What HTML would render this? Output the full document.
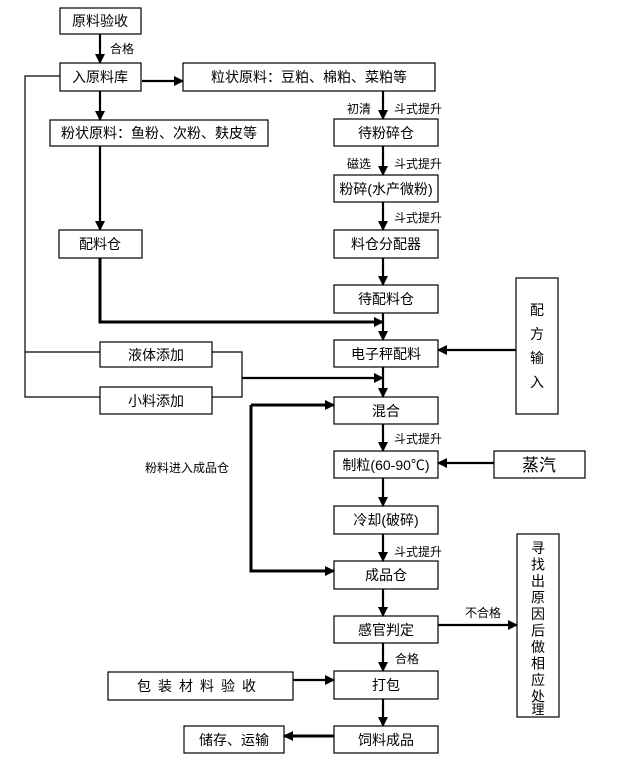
<!DOCTYPE html>
<html><head><meta charset="utf-8"><style>
html,body{margin:0;padding:0;background:#fff;}
svg{display:block;}
text{font-family:"Liberation Sans","Noto Sans CJK SC",sans-serif;font-size:14px;fill:#000;}
.s{font-size:12px;}
</style></head><body>
<svg width="618" height="761" viewBox="0 0 618 761" xmlns="http://www.w3.org/2000/svg">
<defs>
<marker id="a" markerWidth="10" markerHeight="10" refX="9" refY="5" orient="auto" markerUnits="userSpaceOnUse">
<path d="M0,0 L10,5 L0,10 z" fill="#000"/></marker>
</defs>
<g fill="#fff" stroke="#000" stroke-width="1.2">
<rect x="60" y="8" width="81" height="26"/>
<rect x="60" y="63" width="81" height="28"/>
<rect x="183" y="63" width="252" height="28"/>
<rect x="50" y="120" width="218" height="26"/>
<rect x="59" y="230" width="83" height="28"/>
<rect x="334" y="119" width="104" height="27"/>
<rect x="334" y="175" width="104" height="27"/>
<rect x="334" y="230" width="104" height="28"/>
<rect x="334" y="285" width="104" height="28"/>
<rect x="334" y="340" width="104" height="27"/>
<rect x="516" y="278" width="42" height="136"/>
<rect x="100" y="342" width="112" height="25"/>
<rect x="100" y="387" width="112" height="27"/>
<rect x="334" y="397" width="104" height="27"/>
<rect x="334" y="451" width="104" height="27"/>
<rect x="494" y="451" width="91" height="27"/>
<rect x="334" y="506" width="104" height="28"/>
<rect x="334" y="561" width="104" height="28"/>
<rect x="334" y="616" width="104" height="27"/>
<rect x="517" y="534" width="42" height="183"/>
<rect x="108" y="672" width="185" height="28"/>
<rect x="334" y="671" width="104" height="28"/>
<rect x="334" y="726" width="104" height="27"/>
<rect x="184" y="726" width="100" height="27"/>
</g>
<g stroke="#000" stroke-width="2.2" fill="none">
<line x1="100" y1="34" x2="100" y2="63" marker-end="url(#a)"/>
<line x1="142" y1="81" x2="183" y2="81" marker-end="url(#a)"/>
<line x1="100" y1="91" x2="100" y2="120" marker-end="url(#a)"/>
<line x1="100" y1="146" x2="100" y2="230" marker-end="url(#a)"/>
<line x1="383" y1="91" x2="383" y2="119" marker-end="url(#a)"/>
<line x1="383" y1="146" x2="383" y2="175" marker-end="url(#a)"/>
<line x1="383" y1="202" x2="383" y2="230" marker-end="url(#a)"/>
<line x1="383" y1="258" x2="383" y2="285" marker-end="url(#a)"/>
<line x1="383" y1="313" x2="383" y2="340" marker-end="url(#a)"/>
<line x1="383" y1="367" x2="383" y2="397" marker-end="url(#a)"/>
<line x1="383" y1="424" x2="383" y2="451" marker-end="url(#a)"/>
<line x1="383" y1="478" x2="383" y2="506" marker-end="url(#a)"/>
<line x1="383" y1="534" x2="383" y2="561" marker-end="url(#a)"/>
<line x1="383" y1="589" x2="383" y2="616" marker-end="url(#a)"/>
<line x1="383" y1="643" x2="383" y2="671" marker-end="url(#a)"/>
<line x1="383" y1="699" x2="383" y2="726" marker-end="url(#a)"/>
<line x1="516" y1="350" x2="438" y2="350" marker-end="url(#a)"/>
<line x1="494" y1="463" x2="438" y2="463" marker-end="url(#a)"/>
<line x1="438" y1="625" x2="517" y2="625" marker-end="url(#a)"/>
<line x1="293" y1="680" x2="334" y2="680" marker-end="url(#a)"/>
<line x1="334" y1="736" x2="284" y2="736" marker-end="url(#a)" stroke-width="3"/>
<line x1="242" y1="378" x2="383" y2="378" marker-end="url(#a)"/>
<polyline points="100,258 100,322 383,322" stroke-width="3" marker-end="url(#a)"/>
<line x1="251" y1="405" x2="334" y2="405" stroke-width="3" marker-end="url(#a)"/>
<polyline points="251,405 251,571 334,571" stroke-width="3" marker-end="url(#a)"/>
</g>
<g stroke="#000" stroke-width="1.2" fill="none">
<polyline points="60,76 25,76 25,397 100,397"/>
<line x1="25" y1="352" x2="100" y2="352"/>
<polyline points="212,352 242,352 242,397 212,397"/>
</g>
<g text-anchor="middle">
<text x="100" y="26">原料验收</text>
<text x="100" y="82">入原料库</text>
<text x="309" y="82">粒状原料：豆粕、棉粕、菜粕等</text>
<text x="159" y="138">粉状原料：鱼粉、次粉、麸皮等</text>
<text x="100" y="249">配料仓</text>
<text x="386" y="138">待粉碎仓</text>
<text x="386" y="194">粉碎(水产微粉)</text>
<text x="386" y="249">料仓分配器</text>
<text x="386" y="304">待配料仓</text>
<text x="386" y="359">电子秤配料</text>
<text x="156" y="360">液体添加</text>
<text x="156" y="406">小料添加</text>
<text x="386" y="416">混合</text>
<text x="386" y="470">制粒(60-90℃)</text>
<text x="539" y="471" style="font-size:17px">蒸汽</text>
<text x="386" y="525">冷却(破碎)</text>
<text x="386" y="580">成品仓</text>
<text x="386" y="635">感官判定</text>
<text x="200" y="691" letter-spacing="7">包装材料验收</text>
<text x="386" y="690">打包</text>
<text x="386" y="745">饲料成品</text>
<text x="234" y="745">储存、运输</text>
</g>
<g text-anchor="middle" style="font-size:21px">
<text x="537" y="315">配</text><text x="537" y="339">方</text><text x="537" y="363">输</text><text x="537" y="387">入</text>
</g>
<g text-anchor="middle" style="font-size:15px">
<text x="538" y="553">寻</text><text x="538" y="569.5">找</text><text x="538" y="586">出</text><text x="538" y="602.5">原</text><text x="538" y="619">因</text><text x="538" y="635.5">后</text><text x="538" y="652">做</text><text x="538" y="668.5">相</text><text x="538" y="685">应</text><text x="538" y="701.5">处</text><text x="538" y="713" dy="0" style="font-size:0">理</text>
</g>
<text x="538" y="714" text-anchor="middle" style="font-size:13px">理</text>
<g class="s">
<text class="s" x="110" y="53">合格</text>
<text class="s" x="347" y="113">初清</text>
<text class="s" x="394" y="113">斗式提升</text>
<text class="s" x="347" y="168">磁选</text>
<text class="s" x="394" y="168">斗式提升</text>
<text class="s" x="394" y="222">斗式提升</text>
<text class="s" x="394" y="443">斗式提升</text>
<text class="s" x="145" y="472">粉料进入成品仓</text>
<text class="s" x="394" y="556">斗式提升</text>
<text class="s" x="465" y="617">不合格</text>
<text class="s" x="395" y="663">合格</text>
</g>
</svg>
</body></html>
